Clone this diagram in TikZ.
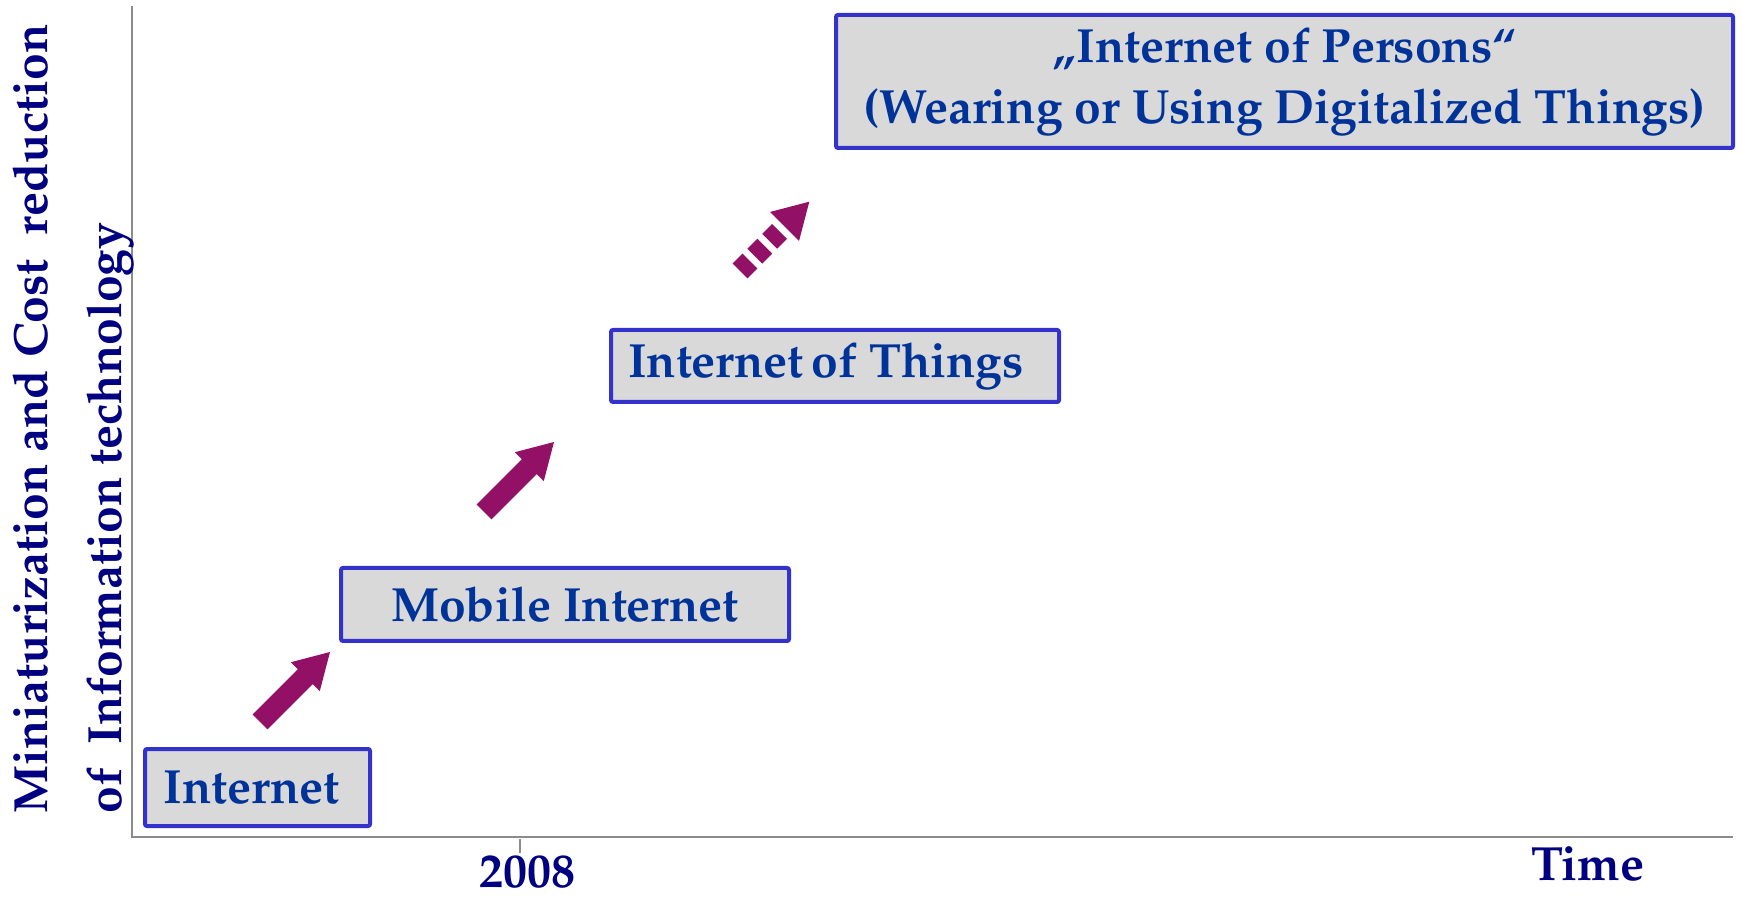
\documentclass[tikz,border=0pt]{standalone}
\usepackage[T1]{fontenc}
\renewcommand{\rmdefault}{ppl}
\definecolor{boxblue}{HTML}{3333CC}
\definecolor{boxfill}{HTML}{D9D9D9}
\definecolor{txtblue}{HTML}{003399}
\definecolor{navyc}{HTML}{000080}
\definecolor{arrowc}{HTML}{921166}
\definecolor{axisgray}{HTML}{8C8C8C}
\tikzset{
  stage/.style={draw=boxblue, line width=2pt, fill=boxfill, rounded corners=1pt,
    inner sep=0pt, font=\fontsize{24}{30.5}\selectfont\bfseries, text=txtblue, align=center},
  axislbl/.style={font=\fontsize{24}{30}\selectfont\bfseries, text=navyc, inner sep=0pt},
  axisline/.style={draw=axisgray, line width=1pt},
  blockarrow/.style={fill=arrowc}
}
\begin{document}
\begin{tikzpicture}[x=0.5pt,y=-0.5pt]
\useasboundingbox (0,0) rectangle (1742,898);
% axes
\coordinate (ytop) at (132,6);
\coordinate (origin) at (132,837);
\coordinate (xend) at (1733,837);
\draw[axisline] (ytop) -- (origin) -- (xend);
\coordinate (tick0) at (520,839);
\coordinate (tick1) at (520,853);
\draw[axisline] (tick0) -- (tick1);
\node[axislbl] (year) at (527,872) {2008};
\node[axislbl] (time) at (1588,864) {Time};
\node[axislbl, rotate=90, anchor=base west] (ylab1) at (47,814) {Miniaturization and Cost\ \ reduction};
\node[axislbl, rotate=90, anchor=base west] (ylab2) at (121,814) {of\ \ Information technology};
% stages
\node[stage, minimum width=112.5pt, minimum height=38.5pt] (internet) at (257.5,787.5) {Internet\hspace*{6pt}};
\node[stage, minimum width=224pt, minimum height=36.5pt] (mobile) at (565,604.5) {Mobile Internet};
\node[stage, minimum width=224pt, minimum height=36pt] (iot) at (835,366) {Internet\,of Things\hspace*{9pt}};
\node[stage, minimum width=448.5pt, minimum height=66.5pt] (iop) at (1284.5,81.5)
  {\quotedblbase Internet of Persons``\\(Wearing or Using Digitalized Things)};
% block arrows
\begin{scope}[shift={(260,722)}, rotate=45]
\fill[blockarrow] (0,-10.5) -- (64,-10.5) -- (64,-20.5) -- (99,0) -- (64,20.5) -- (64,10.5) -- (0,10.5) -- cycle;
\end{scope}
\begin{scope}[shift={(484,512)}, rotate=45]
\fill[blockarrow] (0,-10.5) -- (64,-10.5) -- (64,-20.5) -- (99,0) -- (64,20.5) -- (64,10.5) -- (0,10.5) -- cycle;
\end{scope}
\begin{scope}[shift={(740,271)}, rotate=45]
\fill[blockarrow] (0,-10.5) rectangle (14,10.5);
\fill[blockarrow] (21,-10.5) rectangle (35,10.5);
\fill[blockarrow] (42,-10.5) rectangle (56,10.5);
\fill[blockarrow] (63,-20.5) -- (98,0) -- (63,20.5) -- cycle;
\end{scope}
\end{tikzpicture}
\end{document}
